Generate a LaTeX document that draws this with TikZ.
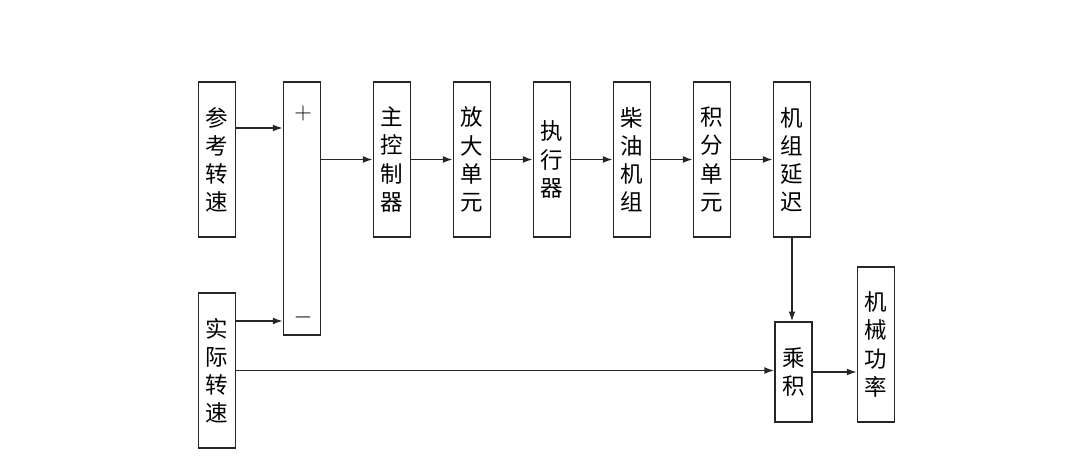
\documentclass[tikz,border=0pt]{standalone}
\usepackage{fontspec}
\setmainfont{Noto Sans CJK SC}
\usepackage{tikz}
\usetikzlibrary{arrows.meta,positioning,calc}

\begin{document}
\begin{tikzpicture}[
  x=0.025cm, y=-0.025cm,
  font=\fontsize{16pt}{20pt}\selectfont,
  every node/.style={align=center},
  blk/.style={draw=black!85, line width=1.2pt, fill=white, inner sep=0pt,
              minimum width=0.93cm, minimum height=3.88cm},
  fl/.style={-{Latex[length=2.4mm,width=1.7mm]}, draw=black!85, line width=0.9pt},
  sgn/.style={font=\fontsize{17pt}{17pt}\selectfont},
]
\useasboundingbox (0,0) rectangle (1068,475);

% ---------- inputs and summing junction ----------
\node[blk] (ref) at (217,159.5) {参\\考\\转\\速};
\node[blk] (meas) at (217,370.5) {实\\际\\转\\速};
\node[blk, minimum height=6.33cm] (sum) at (302,208.5) {};
\node[sgn] (plus) at (303,113) {$+$};
\node[sgn] (minus) at (303,317) {$-$};

\coordinate (pin) at (0,128);
\coordinate (nin) at (0,321);
\draw[fl] (ref.east |- pin) -- (sum.west |- pin);
\draw[fl] (meas.east |- nin) -- (sum.west |- nin);

% ---------- forward chain ----------
\foreach \i/\nm/\txt in {
  0/ctrl/{主\\控\\制\\器},
  1/amp/{放\\大\\单\\元},
  2/act/{执\\行\\器},
  3/eng/{柴\\油\\机\\组},
  4/integ/{积\\分\\单\\元},
  5/delay/{机\\组\\延\\迟}} {
  \node[blk] (\nm) at ({392+\i*80},159.5) {\txt};
}
\draw[fl] (sum.east |- ctrl.west) -- (ctrl.west);
\draw[fl] (ctrl.east) -- (amp.west);
\draw[fl] (amp.east) -- (act.west);
\draw[fl] (act.east) -- (eng.west);
\draw[fl] (eng.east) -- (integ.west);
\draw[fl] (integ.east) -- (delay.west);

% ---------- product and output ----------
\node[blk, minimum height=2.5cm] (prod) at (793.5,372) {乘\\积};
\node[blk] (power) at (876,344.5) {机\\械\\功\\率};

\draw[fl] (delay.south) -- (delay.south |- prod.north);
\draw[fl] (meas.east) -- (prod.west |- meas.east);
\draw[fl] (prod.east) -- (power.west |- prod.east);
\end{tikzpicture}
\end{document}
